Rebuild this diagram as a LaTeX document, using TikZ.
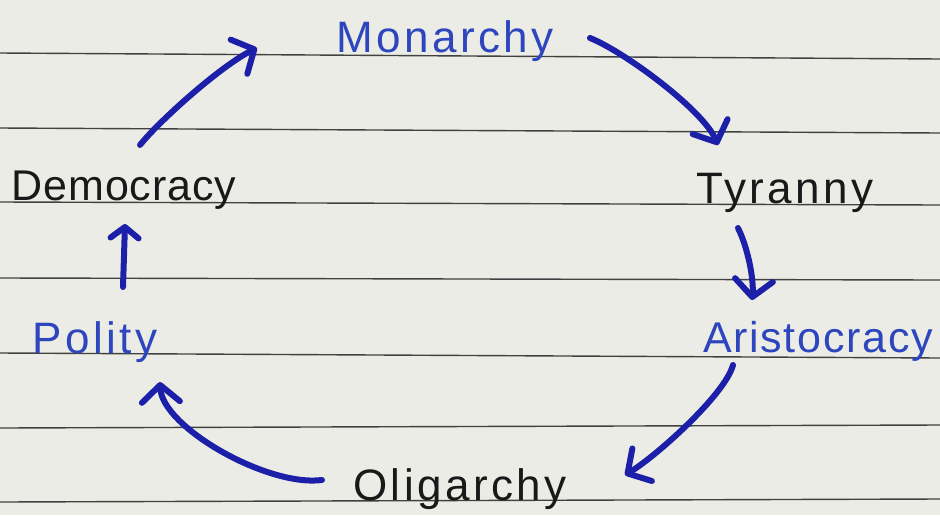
\documentclass[tikz,border=0pt]{standalone}
\usepackage{fontspec}
\setmainfont{Liberation Sans}[LetterSpace=8]
\usepackage{xcolor}
\usetikzlibrary{arrows.meta}
\definecolor{paper}{RGB}{236,236,230}
\definecolor{rule}{RGB}{65,65,65}
\definecolor{pen}{RGB}{28,32,168}
\definecolor{ink}{RGB}{45,70,190}
\definecolor{pencil}{RGB}{25,25,25}

\begin{document}
\begin{tikzpicture}[x=1pt,y=-1pt,
    word/.style={anchor=base, inner sep=0pt, font=\fontsize{44}{50}\selectfont},
    blueword/.style={word, text=ink},
    blackword/.style={word, text=pencil},
    cyc/.style={pen, line width=6pt, line cap=round, -{Straight Barb[length=17pt,width=38pt,round]}}]
    \fill[paper] (0,0) rectangle (940,515);
    \useasboundingbox (0,0) rectangle (940,515);
    \foreach \l/\r in {53/59,128/133,202/205,278/280,353/358,428/425,502/499}
      \draw[rule, line width=1.4pt] (0,\l) -- (940,\r);

    \node[blueword] (mon) at (445,52) {Monarchy};
    \node[blackword] (tyr) at (785,203) {Tyranny};
    \node[blueword, font=\fontsize{43}{50}\selectfont\addfontfeature{LetterSpace=4}] (ari) at (818,352) {Aristocracy};
    \node[blackword] (oli) at (460,500) {Oligarchy};
    \node[blueword] (pol) at (95,353) {Polity};
    \node[blackword, font=\fontsize{43}{50}\selectfont\addfontfeature{LetterSpace=2}] (dem) at (124,200) {Democracy};

    \draw[cyc] ([shift={(16,-55)}]dem.base) .. controls +(20,-25) and +(-35,17) .. ([shift={(-188,-4)}]mon.base);
    \draw[cyc] ([shift={(145,-14)}]mon.base) .. controls +(35,14) and +(-15,-35) .. ([shift={(-67,-58)}]tyr.base);
    \draw[cyc] ([shift={(-47,25)}]tyr.base) .. controls +(10,20) and +(2,-20) .. ([shift={(-66,-52)}]ari.base);
    \draw[cyc] ([shift={(-85,13)}]ari.base) .. controls +(-8,30) and +(30,-18) .. ([shift={(165,-25)}]oli.base);
    \draw[cyc] ([shift={(-138,-20)}]oli.base) .. controls +(-55,7) and +(2,45) .. ([shift={(65,29)}]pol.base);
    \draw[cyc, -{Straight Barb[length=11pt,width=28pt,round]}] ([shift={(28,-66)}]pol.base) -- ([shift={(1,24)}]dem.base);
  \end{tikzpicture}
\end{document}
